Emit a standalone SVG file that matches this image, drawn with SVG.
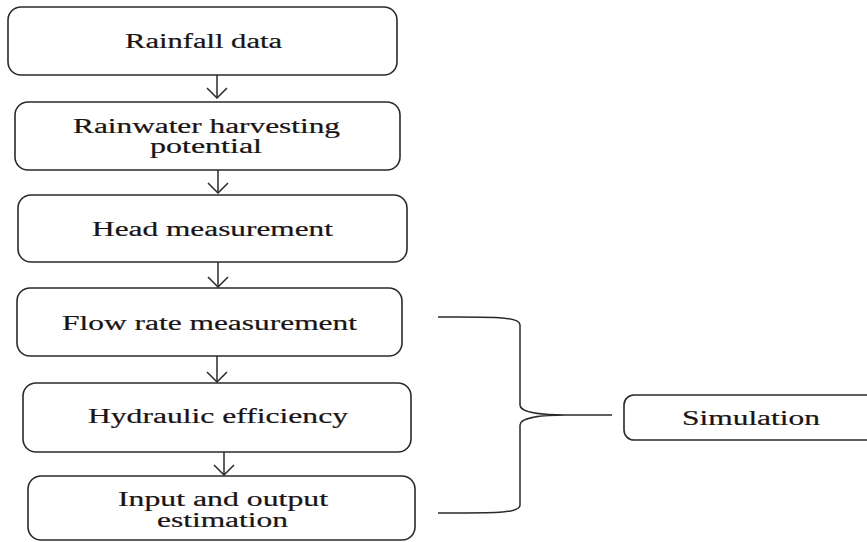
<svg xmlns="http://www.w3.org/2000/svg" width="867" height="542" viewBox="0 0 867 542">
<defs>
<style>
.box{fill:#fff;stroke:#2a2a2a;stroke-width:1.6}
.t{font-family:"Liberation Serif","Times New Roman",serif;font-size:20px;fill:#1a1414;stroke:#1a1414;stroke-width:0.2}
.c{fill:none;stroke:#2a2a2a;stroke-width:1.5}
</style>
<marker id="ah" viewBox="0 0 12 22" refX="11" refY="11" markerWidth="12" markerHeight="22" markerUnits="userSpaceOnUse" orient="auto">
<path d="M1,1 L11,11 L1,21" fill="none" stroke="#2a2a2a" stroke-width="1.5"/>
</marker>
</defs>
<rect width="867" height="542" fill="#fff"/>
<g id="connectors">
<line class="c" x1="217" y1="75" x2="217" y2="98" marker-end="url(#ah)"/>
<line class="c" x1="218" y1="170" x2="218" y2="193" marker-end="url(#ah)"/>
<line class="c" x1="218" y1="262" x2="218" y2="287" marker-end="url(#ah)"/>
<line class="c" x1="217" y1="356" x2="217" y2="382" marker-end="url(#ah)"/>
<line class="c" x1="224" y1="452" x2="224" y2="475" marker-end="url(#ah)"/>
<path class="c" d="M438,317 C490,317 520,316 520,325 L520,405 C520,413 545,415 565,415 C545,415 520,417 520,425 L520,505 C520,514 490,513 438,513"/>
<line class="c" x1="565" y1="415" x2="612" y2="415"/>
</g>
<g id="n1">
<rect class="box" x="8" y="7" width="389" height="68" rx="13"/>
<text class="t" x="125" y="48" textLength="157" lengthAdjust="spacingAndGlyphs">Rainfall data</text>
</g>
<g id="n2">
<rect class="box" x="15" y="102" width="385" height="68" rx="13"/>
<text class="t" x="73" y="133" textLength="267" lengthAdjust="spacingAndGlyphs">Rainwater harvesting</text>
<text class="t" x="150" y="153" textLength="112" lengthAdjust="spacingAndGlyphs">potential</text>
</g>
<g id="n3">
<rect class="box" x="18" y="195" width="389" height="67" rx="13"/>
<text class="t" x="92" y="236" textLength="241" lengthAdjust="spacingAndGlyphs">Head measurement</text>
</g>
<g id="n4">
<rect class="box" x="17" y="288" width="385" height="68" rx="13"/>
<text class="t" x="62" y="330" textLength="295" lengthAdjust="spacingAndGlyphs">Flow rate measurement</text>
</g>
<g id="n5">
<rect class="box" x="23" y="383" width="388" height="69" rx="13"/>
<text class="t" x="88" y="423" textLength="260" lengthAdjust="spacingAndGlyphs">Hydraulic efficiency</text>
</g>
<g id="n6">
<rect class="box" x="28" y="476" width="387" height="64" rx="13"/>
<text class="t" x="118" y="506" textLength="210" lengthAdjust="spacingAndGlyphs">Input and output</text>
<text class="t" x="157" y="527" textLength="131" lengthAdjust="spacingAndGlyphs">estimation</text>
</g>
<g id="n7">
<rect class="box" x="624" y="395" width="260" height="45" rx="10"/>
<text class="t" x="682" y="425" textLength="138" lengthAdjust="spacingAndGlyphs">Simulation</text>
</g>
</svg>
